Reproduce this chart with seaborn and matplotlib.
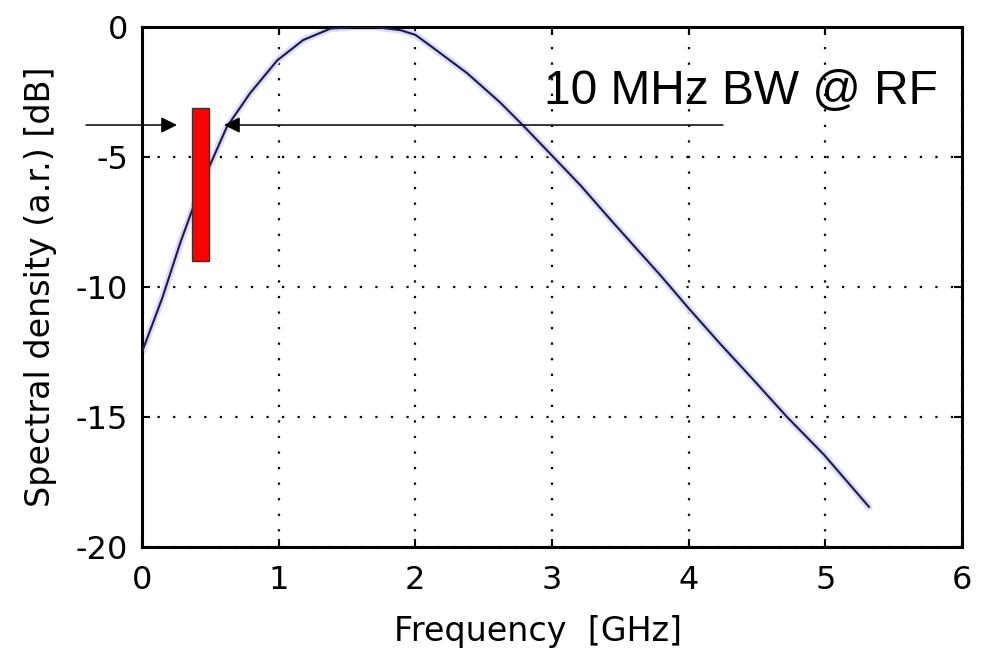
import matplotlib
matplotlib.use("Agg")
import matplotlib.pyplot as plt
import seaborn as sns
import pandas as pd
from matplotlib.patches import Rectangle

# ---- data ----
freq_ghz = [0.0, 0.15, 0.28, 0.37, 0.49, 0.62, 0.79, 0.99, 1.18, 1.38, 1.55,
            1.70, 1.89, 2.00, 2.13, 2.38, 2.62, 2.80, 3.01, 3.21, 3.43, 3.60,
            3.79, 4.00, 4.23, 4.47, 4.72, 4.99, 5.32]
density_db = [-12.5, -10.4, -8.3, -7.0, -5.4, -3.85, -2.55, -1.28, -0.5, -0.06, 0.0,
              0.0, -0.12, -0.3, -0.8, -1.78, -2.9, -3.85, -5.0, -6.1, -7.42, -8.42,
              -9.53, -10.82, -12.18, -13.55, -15.0, -16.45, -18.46]

band_f = [0.365, 0.49]        # red band (GHz)
band_db = [-9.0, -3.1]        # red band (dB)

arrow_level = -3.77
left_arrow_f = [-0.41, 0.256]  # start, tip
right_arrow_f = [4.25, 0.60]   # start, tip

annot_text = "10 MHz BW @ RF"
annot_pos = [2.94, -2.97]

xticks = [0, 1, 2, 3, 4, 5, 6]
yticks = [-20, -15, -10, -5, 0]
xlabel = "Frequency  [GHz]"
ylabel = "Spectral density (a.r.) [dB]"

# ---- style ----
sns.set_theme(style="ticks")
plt.rcParams["font.family"] = ["DejaVu Sans"]
plt.rcParams["axes.unicode_minus"] = False

fig = plt.figure(figsize=(9.83, 6.53), dpi=100)
fig.patch.set_facecolor("white")
ax = fig.add_axes([142 / 983, 1 - 547 / 653, 820 / 983, 520 / 653])
ax.set_facecolor("white")

df = pd.DataFrame({"f": freq_ghz, "db": density_db})
# faint halo like the reference's soft rendering
sns.lineplot(data=df, x="f", y="db", ax=ax, color="#dcdcf6", lw=5, zorder=2,
             legend=False)
sns.lineplot(data=df, x="f", y="db", ax=ax, color="#1a1a55", lw=1.5, zorder=3,
             legend=False)

ax.add_patch(Rectangle((band_f[0], band_db[0]), band_f[1] - band_f[0],
                       band_db[1] - band_db[0], facecolor="#ff0000",
                       edgecolor="#333333", lw=1.0, zorder=4))

arrowprops = dict(arrowstyle="-|>", mutation_scale=24, lw=1.1, color="black",
                  shrinkA=0, shrinkB=0)
ax.annotate("", xy=(left_arrow_f[1], arrow_level),
            xytext=(left_arrow_f[0], arrow_level),
            arrowprops=arrowprops, annotation_clip=False, zorder=5)
ax.annotate("", xy=(right_arrow_f[1], arrow_level),
            xytext=(right_arrow_f[0], arrow_level),
            arrowprops=arrowprops, annotation_clip=False, zorder=5)

ax.text(annot_pos[0], annot_pos[1], annot_text, fontsize=34.5,
        family=["Liberation Sans", "DejaVu Sans"], ha="left", va="baseline",
        color="black", zorder=6)

ax.set_xlim(0, 6)
ax.set_ylim(-20, 0)
ax.set_xticks(xticks)
ax.set_yticks(yticks)
ax.set_xticklabels([str(v) for v in xticks])
ax.set_yticklabels([str(v) for v in yticks])

ax.grid(True, color="black", linestyle=(0, (1, 6)), linewidth=1.6)
ax.set_axisbelow(True)

for sp in ax.spines.values():
    sp.set_visible(True)
    sp.set_linewidth(2.2)
    sp.set_color("black")

ax.tick_params(axis="both", direction="in", length=6, width=1.5,
               colors="black", labelsize=23, top=True, right=True)
ax.tick_params(axis="x", pad=13)
ax.tick_params(axis="y", pad=10)

ax.set_xlabel(xlabel, fontsize=24, color="black")
ax.set_ylabel(ylabel, fontsize=24, color="black")
ax.xaxis.set_label_coords(0.4825, -0.13)
ax.xaxis.label.set_va("top")
ax.yaxis.set_label_coords(-0.104, 0.5)

fig.savefig("out.png", dpi=100, facecolor="white")
